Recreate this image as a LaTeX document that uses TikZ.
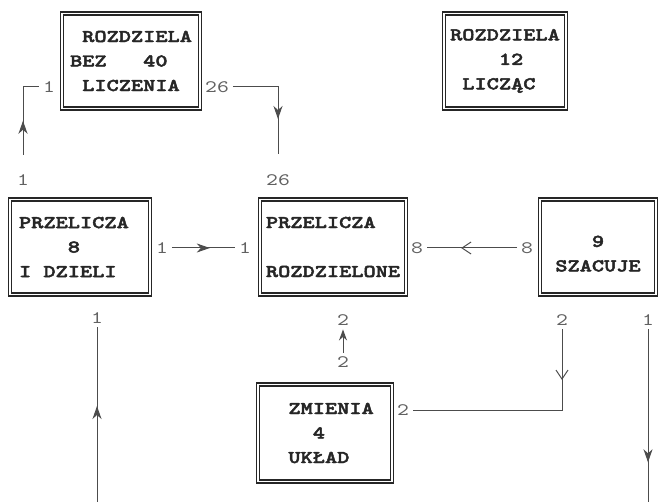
\documentclass[tikz,border=0pt]{standalone}
\usepackage{fontspec}
\newfontfamily\boxfont{lmmono10-regular.otf}[BoldFont=lmmonolt10-bold.otf, BoldFeatures={FakeBold=2.5}, FakeStretch=1.29]
\usetikzlibrary{arrows.meta,decorations.markings}

\definecolor{inkbox}{gray}{0.15}
\definecolor{inklab}{gray}{0.38}
\definecolor{inkwire}{gray}{0.3}

\tikzset{
  blok/.style={draw=inkbox, line width=1.2pt, double, double distance=1.8pt,
    inner sep=0pt, text=inkbox, align=left,
    font=\boxfont\bfseries\fontsize{18}{24.5}\selectfont},
  port/.style={text=inklab, inner sep=1pt, outer sep=3pt,
    font=\boxfont\fontsize{17.5}{20}\selectfont},
  wire/.style={draw=inkwire, line width=1pt},
  midarrow/.style={postaction={decorate}, decoration={markings,
    mark=at position #1 with {\arrow{Stealth[length=13pt,width=9pt,inset=4pt]}}}},
  midbarb/.style={postaction={decorate}, decoration={markings,
    mark=at position #1 with {\arrow{Straight Barb[length=9pt,width=12pt]}}}}
}

\begin{document}
\begin{tikzpicture}[x=1pt,y=-1pt]
  \useasboundingbox (0,0) rectangle (660,502);

  % the six boxes
  \node[blok, minimum width=138pt, minimum height=95pt] (rozbez) at (131,61)
    {\phantom{X}ROZDZIELA\\BEZ\phantom{XXX}40\\\phantom{X}LICZENIA};
  \node[blok, minimum width=122pt, minimum height=95pt] (rozlicz) at (505,61)
    {ROZDZIELA\\\phantom{XXXX}12\\\phantom{X}LICZĄC};
  \node[blok, minimum width=140pt, minimum height=95pt] (przdziel) at (80,247)
    {PRZELICZA\phantom{X}\\\phantom{XXXX}8\\I DZIELI};
  \node[blok, minimum width=146pt, minimum height=95pt] (przroz) at (333,247)
    {PRZELICZA\\[24.5pt]ROZDZIELONE};
  \node[blok, minimum width=116pt, minimum height=95pt, align=center] (szac) at (598,247)
    {\mbox{}\\9\\SZACUJE};
  \node[blok, minimum width=134pt, minimum height=97pt] (zmien) at (325,433)
    {\phantom{X}ZMIENIA\\\phantom{XXX}4\\\phantom{X}UKŁAD};

  % port numbers
  \node[port] (p1l) at (49,87) {1};
  \node[port] (p1r) at (217,87) {26};
  \node[port] (p3t) at (23,180) {1};
  \node[port] (p4t) at (278,180) {26};
  \node[port] (p3r) at (162,248) {1};
  \node[port] (p4l) at (245,248) {1};
  \node[port] (p4r) at (417,248) {8};
  \node[port] (p5l) at (527,248) {8};
  \node[port] (p3b) at (97,318) {1};
  \node[port] (p4b) at (343,320) {2};
  \node[port] (p6t) at (343,362) {2};
  \node[port] (p5b) at (562,320) {2};
  \node[port] (p5bb) at (648,320) {1};
  \node[port] (p6r) at (403,410) {2};
  \coordinate (wejscie) at (97,502);
  \coordinate (wyjscie) at (648,502);

  % connectors
  \draw[wire, midarrow=0.5, shorten <=16pt] (p3t.north) |- (p1l.west);
  \draw[wire, midarrow=0.6, shorten >=16pt] (p1r.east) -| (p4t.north);
  \draw[wire, midarrow=0.6] (p3r.east) -- (p4l.west);
  \draw[wire, midbarb=0.62] (p5l.west) -- (p4r.east);
  \draw[wire, -{Stealth[length=11pt,width=8pt,inset=3.5pt]}] (p6t.north) -- (p4b.south);
  \draw[wire, midbarb=0.22] (p5b.south) |- (p6r.east);
  \draw[wire, midarrow=0.77] (p5bb.south) -- (wyjscie);
  \draw[wire, midarrow=0.55] (wejscie) -- (p3b.south);
\end{tikzpicture}
\end{document}
